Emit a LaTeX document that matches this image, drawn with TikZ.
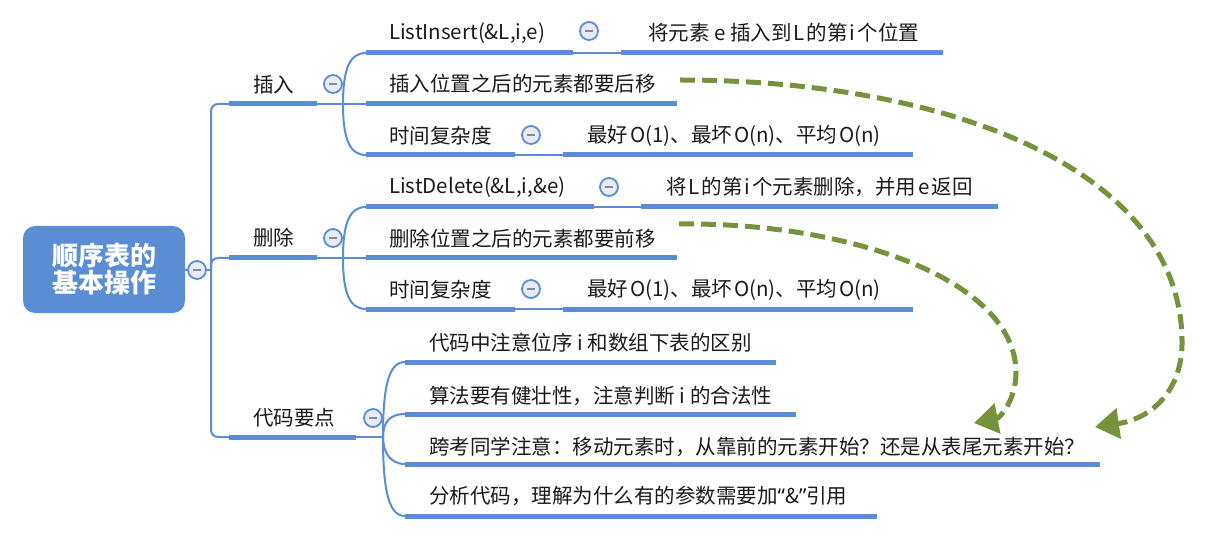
\documentclass[tikz,border=0pt]{standalone}
\usepackage{fontspec}
\newfontfamily\cjk{Noto Sans CJK SC}
\newfontfamily\latinq{Noto Sans}
\usetikzlibrary{arrows.meta}
\definecolor{mblue}{HTML}{5A8DD3}
\definecolor{mgreen}{HTML}{76923C}
\definecolor{cfill}{HTML}{E8EBF3}
\definecolor{minusc}{HTML}{7E8BA3}
\definecolor{txtc}{HTML}{1A1A1A}
\tikzset{
  txt/.style={font=\cjk\fontsize{20.5}{24}\selectfont, anchor=west, inner sep=0pt, text=txtc},
  root/.style={rounded corners=12pt, fill=mblue, minimum width=162pt, minimum height=87pt,
    text=white, align=center, inner sep=0pt, font=\cjk\bfseries\fontsize{26}{29}\selectfont},
  uline/.style={line width=5pt, mblue},
  thinl/.style={line width=2pt, mblue},
  tog/.style={circle, draw=mblue, fill=cfill, line width=1.8pt, minimum size=18pt, inner sep=0pt,
    path picture={\draw[line width=1.6pt, minusc] ([xshift=-4pt]path picture bounding box.center) -- ([xshift=4pt]path picture bounding box.center);}},
  arr/.style={mgreen, line width=5pt, dash pattern=on 15pt off 7pt,
    -{Triangle[length=24pt,width=30pt]}},
}
\newcommand{\ks}{\kern2pt}
\begin{document}
\begin{tikzpicture}[x=1pt,y=-1pt]
\useasboundingbox (0,0) rectangle (1205,540);

% ---------- root ----------
\node[root] (root) at (104,269.5) {顺序表的\\[-2pt]基本操作};
\node[tog] (t0) at (197,270) {};
\draw[thinl] (root.east) -- (t0.west);
\coordinate (trunk) at (211,270);
\draw[thinl] (t0.east) -- (trunk);

% ---------- coordinates of the first level ----------
\coordinate (b1l) at (229,104); \coordinate (b1r) at (317,104);
\coordinate (b2l) at (229,258); \coordinate (b2r) at (317,258);
\coordinate (b3l) at (229,437); \coordinate (b3r) at (356,437);

\draw[thinl, rounded corners=7pt] (b1l) -| (trunk) |- (b3l);
\draw[thinl, rounded corners=7pt] (b2l) -| (trunk);

% ---------- branch 1: 插入 ----------
\node[txt] (b1) at (253,85) {插入};
\draw[uline] (b1l) -- (b1r);
\node[tog] (t1) at (333,84) {};
\coordinate (k1) at (343,104);
\coordinate (s11l) at (366,53);  \coordinate (s11r) at (573,53);
\coordinate (s12l) at (366,104); \coordinate (s12r) at (677,104);
\coordinate (s13l) at (366,155); \coordinate (s13r) at (515,155);
\draw[thinl] (b1r) -- (s12l);
\draw[thinl] (k1) .. controls (343,68) and (350,53) .. (s11l);
\draw[thinl] (k1) .. controls (343,140) and (350,155) .. (s13l);

\node[txt] (s11) at (389,33) {ListInsert(\&L,i,e)};
\draw[uline] (s11l) -- (s11r);
\node[tog] (t11) at (589,31) {};
\coordinate (d11l) at (621,53); \coordinate (d11r) at (943,53);
\draw[thinl] (s11r) -- (d11l);
\draw[uline] (d11l) -- (d11r);
\node[txt] (d11) at (648,33) {将元素 e 插入到\ks L\ks 的第\ks i\ks 个位置};

\node[txt] (s12) at (389,84) {插入位置之后的元素都要后移};
\draw[uline] (s12l) -- (s12r);

\node[txt] (s13) at (389,136) {时间复杂度};
\draw[uline] (s13l) -- (s13r);
\node[tog] (t13) at (531,135) {};
\coordinate (d13l) at (563,155); \coordinate (d13r) at (913,155);
\draw[thinl] (s13r) -- (d13l);
\draw[uline] (d13l) -- (d13r);
\node[txt] (d13) at (587,136) {最好\ks O(1)、最坏\ks O(n)、平均\ks O(n)};

% ---------- branch 2: 删除 ----------
\node[txt] (b2) at (253,238) {删除};
\draw[uline] (b2l) -- (b2r);
\node[tog] (t2) at (333,238) {};
\coordinate (k2) at (343,258);
\coordinate (s21l) at (366,207); \coordinate (s21r) at (594,207);
\coordinate (s22l) at (366,258); \coordinate (s22r) at (677,258);
\coordinate (s23l) at (366,309); \coordinate (s23r) at (515,309);
\draw[thinl] (b2r) -- (s22l);
\draw[thinl] (k2) .. controls (343,222) and (350,207) .. (s21l);
\draw[thinl] (k2) .. controls (343,294) and (350,309) .. (s23l);

\node[txt] (s21) at (389,187) {ListDelete(\&L,i,\&e)};
\draw[uline] (s21l) -- (s21r);
\node[tog] (t21) at (609,187) {};
\coordinate (d21l) at (641,207); \coordinate (d21r) at (998,207);
\draw[thinl] (s21r) -- (d21l);
\draw[uline] (d21l) -- (d21r);
\node[txt] (d21) at (666,187) {将\ks L\ks 的第\ks i\ks 个元素删除，并用\ks e\ks 返回};

\node[txt] (s22) at (389,239) {删除位置之后的元素都要前移};
\draw[uline] (s22l) -- (s22r);

\node[txt] (s23) at (389,290) {时间复杂度};
\draw[uline] (s23l) -- (s23r);
\node[tog] (t23) at (531,289) {};
\coordinate (d23l) at (563,309); \coordinate (d23r) at (913,309);
\draw[thinl] (s23r) -- (d23l);
\draw[uline] (d23l) -- (d23r);
\node[txt] (d23) at (587,290) {最好\ks O(1)、最坏\ks O(n)、平均\ks O(n)};

% ---------- branch 3: 代码要点 ----------
\node[txt] (b3) at (253,418) {代码要点};
\draw[uline] (b3l) -- (b3r);
\node[tog] (t3) at (373,418) {};
\coordinate (k3) at (383,437);
\draw[thinl] (b3r) -- (k3);
\coordinate (s31l) at (405,362); \coordinate (s31r) at (776,362);
\coordinate (s32l) at (405,414); \coordinate (s32r) at (796,414);
\coordinate (s33l) at (405,464); \coordinate (s33r) at (1100,464);
\coordinate (s34l) at (405,516); \coordinate (s34r) at (877,516);
\draw[thinl] (k3) .. controls (383,385) and (389,362) .. (s31l);
\draw[thinl] (k3) .. controls (383,422) and (390,414) .. (s32l);
\draw[thinl] (k3) .. controls (383,452) and (390,464) .. (s33l);
\draw[thinl] (k3) .. controls (383,492) and (389,516) .. (s34l);

\node[txt] (s31) at (429,343) {代码中注意位序 i 和数组下表的区别};
\draw[uline] (s31l) -- (s31r);
\node[txt] (s32) at (429,396) {算法要有健壮性，注意判断 i 的合法性};
\draw[uline] (s32l) -- (s32r);
\node[txt] (s33) at (429,447) {跨考同学注意：移动元素时，从靠前的元素开始？还是从表尾元素开始？};
\draw[uline] (s33l) -- (s33r);
\node[txt] (s34) at (429,496) {分析代码，理解为什么有的参数需要加{\latinq “}\&{\latinq ”}引用};
\draw[uline] (s34l) -- (s34r);

% ---------- green dashed arrows ----------
\coordinate (a1s) at (680,80);  \coordinate (a1e) at (1095,427);
\coordinate (a2s) at (679,224); \coordinate (a2e) at (974,423);
\draw[arr] (a1s) .. controls (950,80) and (1180,170) .. (1182,340)
                 .. controls (1183,392) and (1150,419) .. (a1e);
\draw[arr] (a2s) .. controls (850,222) and (1015,280) .. (1016,372)
                 .. controls (1016,400) and (1000,418) .. (a2e);
\end{tikzpicture}
\end{document}
